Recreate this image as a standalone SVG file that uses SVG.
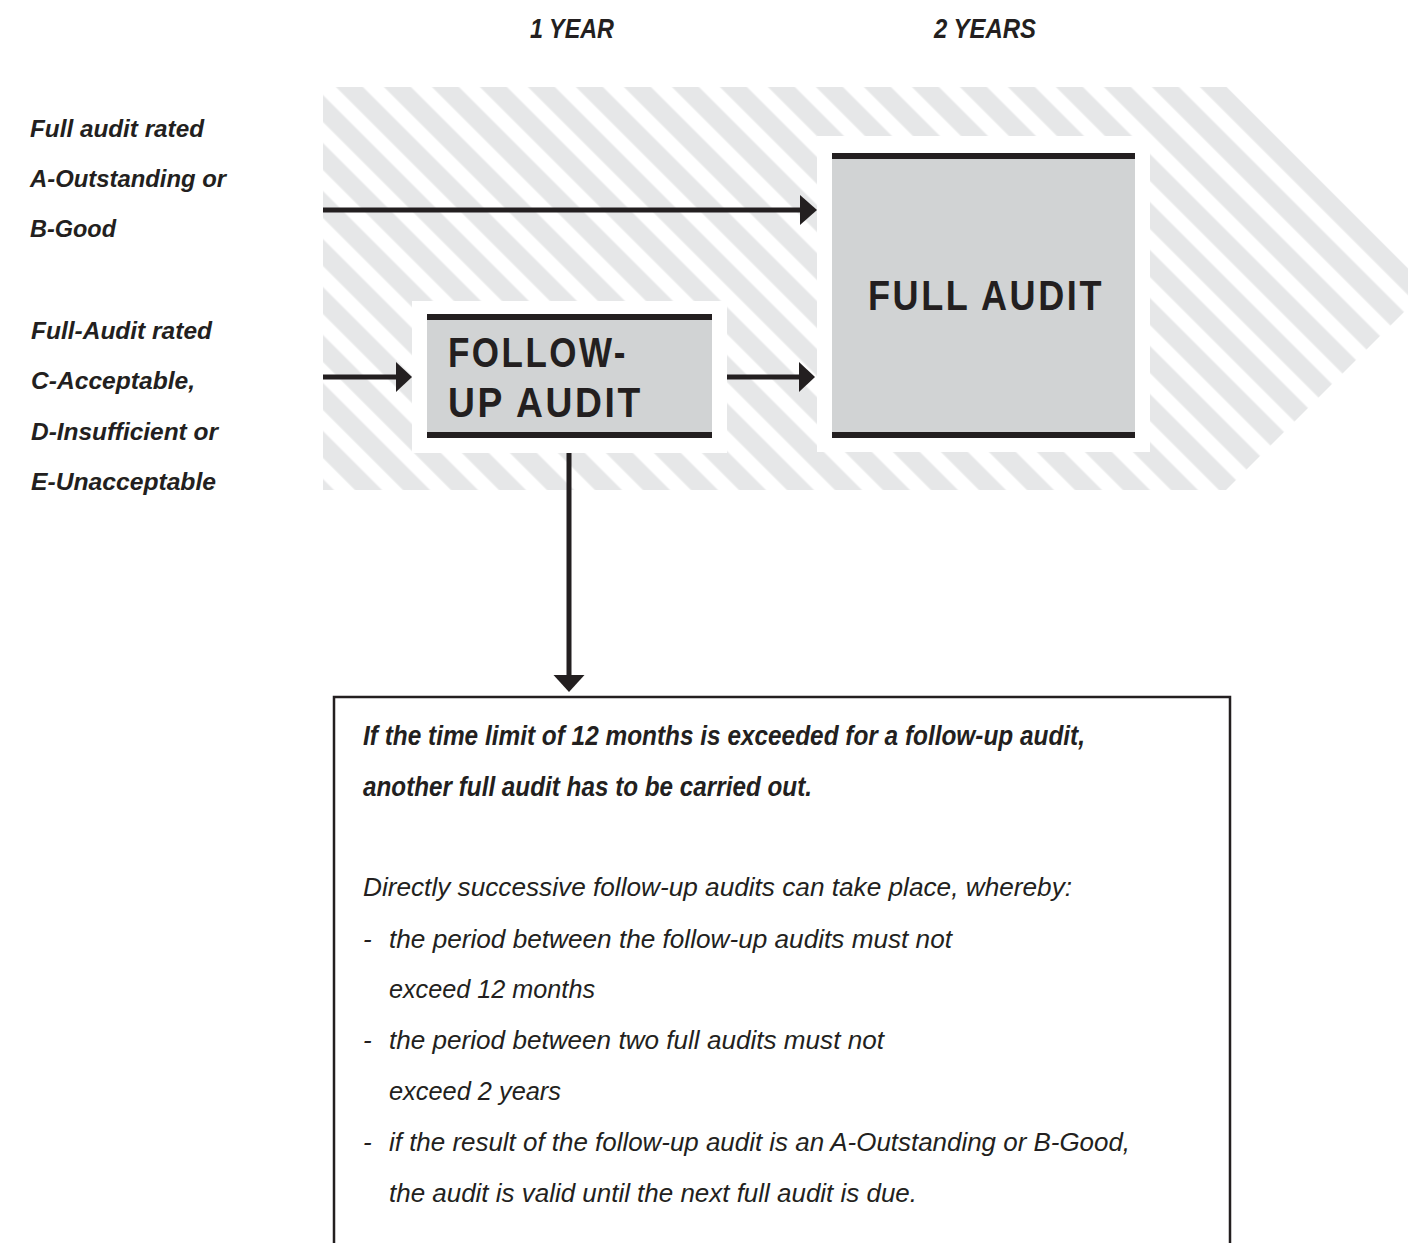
<svg xmlns="http://www.w3.org/2000/svg" width="1408" height="1243" viewBox="0 0 1408 1243">
  <style>
    .lbl { font-family: "Liberation Sans", Arial, sans-serif; font-weight: bold; font-style: italic; font-size: 24px; fill: #231f20; }
    .hdr { font-family: "Liberation Sans", Arial, sans-serif; font-weight: bold; font-style: italic; font-size: 28px; fill: #231f20; }
    .box-title { font-family: "Liberation Sans", Arial, sans-serif; font-weight: bold; font-size: 42px; fill: #231f20; }
    .note-b { font-family: "Liberation Sans", Arial, sans-serif; font-weight: bold; font-style: italic; font-size: 28px; fill: #231f20; }
    .note { font-family: "Liberation Sans", Arial, sans-serif; font-style: italic; font-size: 26px; fill: #231f20; }
    .bar { fill: #231f20; }
    .fill { fill: #d1d3d4; }
    .frame { fill: #ffffff; }
    .conn { stroke: #231f20; stroke-width: 5; fill: none; }
    .head { fill: #231f20; }
  </style>
  <defs>
    <pattern id="stripes" patternUnits="userSpaceOnUse" width="33.94" height="10" patternTransform="rotate(-45)">
      <rect x="6.36" y="0" width="19.09" height="10" fill="#e6e7e8"/>
    </pattern>
  </defs>
  <rect width="1408" height="1243" fill="#ffffff"/>

  <!-- striped chevron background -->
  <polygon points="323,87 1227,87 1428,288 1226,490 323,490" fill="url(#stripes)"/>

  <!-- headers -->
  <g id="headers">
    <text class="hdr" x="530" y="38" textLength="84" lengthAdjust="spacingAndGlyphs">1 YEAR</text>
    <text class="hdr" x="934" y="38" textLength="102" lengthAdjust="spacingAndGlyphs">2 YEARS</text>
  </g>

  <!-- left labels -->
  <g id="label-ab">
    <text class="lbl" x="30" y="137" textLength="174" lengthAdjust="spacingAndGlyphs">Full audit rated</text>
    <text class="lbl" x="30" y="187" textLength="196" lengthAdjust="spacingAndGlyphs">A-Outstanding or</text>
    <text class="lbl" x="30" y="237" textLength="86" lengthAdjust="spacingAndGlyphs">B-Good</text>
  </g>
  <g id="label-cde">
    <text class="lbl" x="31" y="339" textLength="181" lengthAdjust="spacingAndGlyphs">Full-Audit rated</text>
    <text class="lbl" x="31" y="389" textLength="164" lengthAdjust="spacingAndGlyphs">C-Acceptable,</text>
    <text class="lbl" x="31" y="440" textLength="187" lengthAdjust="spacingAndGlyphs">D-Insufficient or</text>
    <text class="lbl" x="31" y="490" textLength="185" lengthAdjust="spacingAndGlyphs">E-Unacceptable</text>
  </g>

  <!-- follow-up audit node -->
  <g id="follow-up-audit">
    <rect class="frame" x="412" y="301" width="315" height="152"/>
    <rect class="fill" x="427" y="320" width="285" height="113"/>
    <rect class="bar" x="427" y="314" width="285" height="6"/>
    <rect class="bar" x="427" y="432" width="285" height="6"/>
    <text class="box-title" x="448" y="367" textLength="180" lengthAdjust="spacingAndGlyphs" letter-spacing="3">FOLLOW-</text>
    <text class="box-title" x="448" y="417" textLength="195" lengthAdjust="spacingAndGlyphs" letter-spacing="3">UP AUDIT</text>
  </g>

  <!-- full audit node -->
  <g id="full-audit">
    <rect class="frame" x="817" y="136" width="333" height="316"/>
    <rect class="fill" x="832" y="159" width="303" height="273"/>
    <rect class="bar" x="832" y="153" width="303" height="6"/>
    <rect class="bar" x="832" y="432" width="303" height="6"/>
    <text class="box-title" x="868" y="310" textLength="236" lengthAdjust="spacingAndGlyphs" letter-spacing="3">FULL AUDIT</text>
  </g>

  <!-- connectors -->
  <g id="connectors">
    <line class="conn" x1="323" y1="210" x2="801" y2="210"/>
    <polygon class="head" points="800,195 817,210 800,225"/>
    <line class="conn" x1="323" y1="377" x2="397" y2="377"/>
    <polygon class="head" points="396,362 412,377 396,392"/>
    <line class="conn" x1="727" y1="377" x2="800" y2="377"/>
    <polygon class="head" points="799,362 815,377 799,392"/>
    <line class="conn" x1="569" y1="453" x2="569" y2="676"/>
    <polygon class="head" points="553.5,675 569,692 584.5,675"/>
  </g>

  <!-- note box -->
  <g id="note">
    <path d="M334,1250 V697 H1230 V1250" fill="none" stroke="#231f20" stroke-width="2.5"/>
    <text class="note-b" x="363" y="745" textLength="722" lengthAdjust="spacingAndGlyphs">If the time limit of 12 months is exceeded for a follow-up audit,</text>
    <text class="note-b" x="363" y="796" textLength="449" lengthAdjust="spacingAndGlyphs">another full audit has to be carried out.</text>
    <text class="note" x="363" y="896" textLength="709" lengthAdjust="spacingAndGlyphs">Directly successive follow-up audits can take place, whereby:</text>
    <text class="note" x="363" y="948">-</text>
    <text class="note" x="389" y="948" textLength="563" lengthAdjust="spacingAndGlyphs">the period between the follow-up audits must not</text>
    <text class="note" x="389" y="998" textLength="206" lengthAdjust="spacingAndGlyphs">exceed 12 months</text>
    <text class="note" x="363" y="1049">-</text>
    <text class="note" x="389" y="1049" textLength="495" lengthAdjust="spacingAndGlyphs">the period between two full audits must not</text>
    <text class="note" x="389" y="1100" textLength="172" lengthAdjust="spacingAndGlyphs">exceed 2 years</text>
    <text class="note" x="363" y="1151">-</text>
    <text class="note" x="389" y="1151" textLength="741" lengthAdjust="spacingAndGlyphs">if the result of the follow-up audit is an A-Outstanding or B-Good,</text>
    <text class="note" x="389" y="1202" textLength="528" lengthAdjust="spacingAndGlyphs">the audit is valid until the next full audit is due.</text>
  </g>
</svg>
